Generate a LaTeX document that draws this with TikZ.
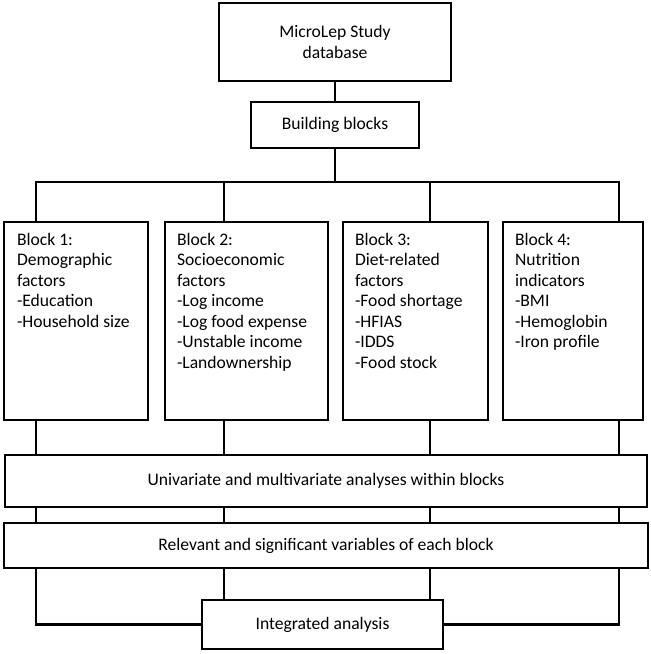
\documentclass[tikz,border=0pt]{standalone}
\usepackage{fontspec}
\setmainfont{Carlito}
\usetikzlibrary{calc}

\begin{document}
\begin{tikzpicture}[x=1pt,y=-1pt,line width=2.6pt,
  box/.style={draw,fill=white,inner sep=0pt,font=\fontsize{17.6}{20.5}\selectfont},
  blocktxt/.style={anchor=north west,inner sep=0pt,align=left,font=\fontsize{17.6}{20.5}\selectfont}]
  \useasboundingbox (0,0) rectangle (651,654);
  % database and building blocks
  \node[box,minimum width=232pt,minimum height=78pt,align=center] (db) at (335,42) {MicroLep Study\\database};
  \node[box,minimum width=168pt,minimum height=46pt] (bb) at (335,125) {Building blocks};
  % the four blocks
  \node[box,minimum width=144pt,minimum height=198pt] (b1) at (76,321) {};
  \node[box,minimum width=163pt,minimum height=198pt] (b2) at (246.5,321) {};
  \node[box,minimum width=145pt,minimum height=198pt] (b3) at (415.5,321) {};
  \node[box,minimum width=140pt,minimum height=198pt] (b4) at (573,321) {};
  \node[blocktxt] (t1) at ($(b1.north west)+(13,11)$) {Block 1:\\Demographic\\factors\\-Education\\-Household size};
  \node[blocktxt] (t2) at ($(b2.north west)+(12,11)$) {Block 2:\\Socioeconomic\\factors\\-Log income\\-Log food expense\\-Unstable income\\-Landownership};
  \node[blocktxt] (t3) at ($(b3.north west)+(12,11)$) {Block 3:\\Diet-related\\factors\\-Food shortage\\-HFIAS\\-IDDS\\-Food stock};
  \node[blocktxt] (t4) at ($(b4.north west)+(12,11)$) {Block 4:\\Nutrition\\indicators\\-BMI\\-Hemoglobin\\-Iron profile};
  % analyses
  \node[box,minimum width=642pt,minimum height=52pt] (uni) at (326,481) {Univariate and multivariate analyses within blocks};
  \node[box,minimum width=644pt,minimum height=45pt] (rel) at (326,545.5) {Relevant and significant variables of each block};
  \node[box,minimum width=241pt,minimum height=49pt] (ia) at (322.5,624.5) {Integrated analysis};
  % connectors
  \coordinate (k1) at (36,182);
  \coordinate (k2) at (224,182);
  \coordinate (k3) at (430,182);
  \coordinate (k4) at (619,182);
  \draw (db) -- (bb);
  \draw (bb.south) -- (bb.south |- k1);
  \draw (b1.north -| k1) -- (k1) -- (k4) -- (b4.north -| k4);
  \draw (k2) -- (k2 |- b2.north);
  \draw (k3) -- (k3 |- b3.north);
  \foreach \k/\b in {k1/b1,k2/b2,k3/b3,k4/b4}{
    \draw (\k |- \b.south) -- (\k |- uni.north);
    \draw (\k |- uni.south) -- (\k |- rel.north);
  }
  \draw (k2 |- rel.south) -- (k2 |- ia.north);
  \draw (k3 |- rel.south) -- (k3 |- ia.north);
  \draw (k1 |- rel.south) |- (ia.west);
  \draw (k4 |- rel.south) |- (ia.east);
\end{tikzpicture}
\end{document}
